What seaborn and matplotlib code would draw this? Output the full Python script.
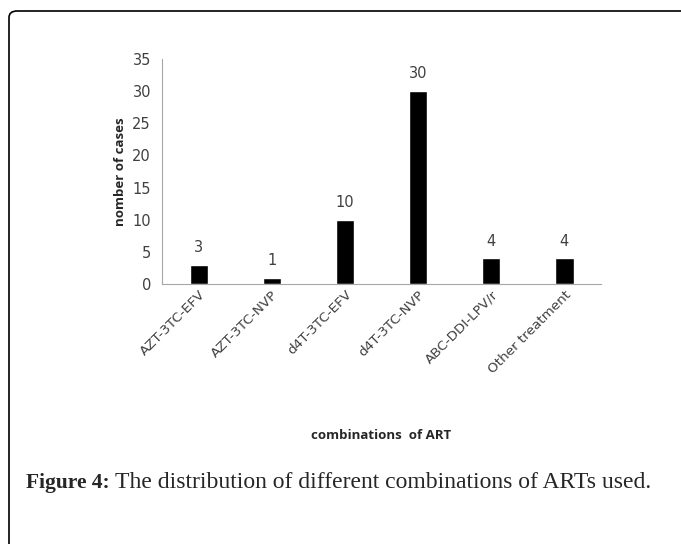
import matplotlib
matplotlib.use("Agg")
import matplotlib.pyplot as plt
import seaborn as sns
import pandas as pd
from matplotlib.patches import FancyBboxPatch

# ART combinations and number of cases
regimens = ["AZT-3TC-EFV", "AZT-3TC-NVP", "d4T-3TC-EFV", "d4T-3TC-NVP",
            "ABC-DDI-LPV/r", "Other treatment"]
cases = [3, 1, 10, 30, 4, 4]

df = pd.DataFrame({"regimen": regimens, "cases": cases})

sns.set_style("white")
plt.rcParams["font.family"] = ["DejaVu Sans"]

fig = plt.figure(figsize=(6.81, 5.44), dpi=100)
ax = fig.add_axes([0.238, 0.478, 0.6445, 0.4135])

sns.barplot(data=df, x="regimen", y="cases", color="black", width=0.25,
            saturation=1, ax=ax)

ax.set_ylim(0, 35)
ax.set_yticks(range(0, 36, 5))
ax.set_xlim(-0.5, len(regimens) - 0.5)

txt = "#404040"
for i, v in enumerate(cases):
    ax.annotate(str(v), (i, v), xytext=(0, 7), textcoords="offset points",
                ha="center", va="bottom", fontsize=10.5, color=txt)

gray = "#a6a6a6"
for side in ["top", "right"]:
    ax.spines[side].set_visible(False)
ax.spines["left"].set_color(gray)
ax.spines["bottom"].set_color(gray)
ax.tick_params(axis="y", length=4, color=gray, labelsize=10.5, labelcolor=txt, pad=4)
ax.tick_params(axis="x", length=0, labelsize=9.7, labelcolor=txt, pad=3)
plt.setp(ax.get_xticklabels(), rotation=45, ha="right", rotation_mode="anchor")

ax.set_ylabel("nomber of cases", fontsize=9.5, fontweight="bold",
              family="Open Sans", labelpad=4)
ax.set_xlabel("combinations  of ART", fontsize=9.5, fontweight="bold",
              family="Open Sans", labelpad=38)

# figure frame, running off the right and bottom edges
frame = FancyBboxPatch((9 / 681, -0.1), 1.1, 1.1 - 11 / 544,
                       boxstyle="round,pad=0,rounding_size=0.012",
                       transform=fig.transFigure, fill=False,
                       edgecolor="black", linewidth=1.2)
fig.patches.append(frame)

# caption: bold label followed by plain text
base_y = 1 - 488 / 544
lab = fig.text(26 / 681, base_y, "Figure 4:", fontsize=15.5, fontweight="bold",
               family="Liberation Serif", va="baseline")
fig.canvas.draw()
bb = lab.get_window_extent()
fig.text((bb.x1 + 5) / 681, base_y,
         "The distribution of different combinations of ARTs used.",
         fontsize=17, family="Liberation Serif", va="baseline")

fig.savefig("out.png", dpi=100)
